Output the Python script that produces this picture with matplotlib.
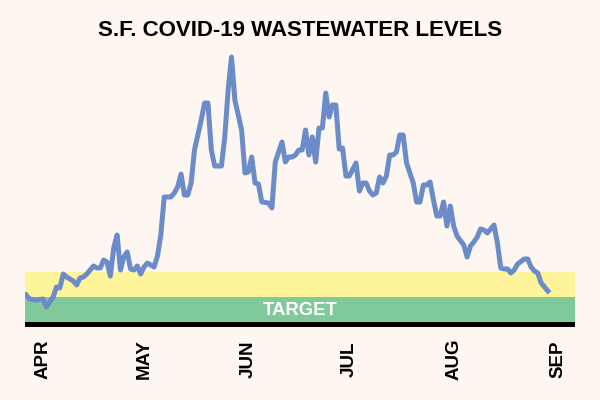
import numpy as np
import pandas as pd
import matplotlib
matplotlib.use('Agg')
import matplotlib.pyplot as plt
import matplotlib.transforms as mtransforms

# days after 1 April, and wastewater level (target band = 0-1, watch band = 1-2)
days = [-5, -4, -2, 0, 1, 3, 4, 5, 6, 7, 9, 10, 11, 12, 13, 15, 16, 17, 18, 19,
        20, 21, 22, 23, 24, 25, 26, 27, 28, 29, 30, 31, 33, 34, 35, 36, 38, 39, 40, 41,
        42, 43, 44, 45, 47, 48, 49, 50, 51, 53, 54, 55, 56, 57, 59, 60, 61, 62, 63, 64,
        65, 67, 68, 69, 71, 72, 73, 74, 75, 76, 77, 78, 79, 80, 81, 82, 83, 84, 85, 86,
        87, 88, 89, 90, 91, 93, 94, 95, 96, 97, 98, 99, 100, 101, 102, 103, 104, 105, 106, 107,
        108, 110, 111, 112, 113, 114, 115, 116, 117, 118, 119, 120, 121, 122, 123, 125, 126, 127, 128, 129,
        130, 131, 132, 134, 135, 136, 137, 138, 139, 140, 141, 143, 144, 145, 146, 147, 148, 150]
level = [1.08, 0.92, 0.88, 0.92, 0.60, 1.00, 1.40, 1.36, 1.92, 1.80, 1.64, 1.48, 1.76, 1.80, 1.92, 2.24, 2.16, 2.16, 2.48, 2.40,
         1.84, 2.96, 3.48, 2.08, 2.60, 2.80, 2.12, 2.08, 2.24, 1.92, 2.20, 2.36, 2.20, 2.64, 3.48, 5.00, 5.00, 5.16, 5.40, 5.92,
         5.08, 5.08, 5.56, 6.88, 8.08, 8.76, 8.76, 6.88, 6.24, 6.24, 7.40, 9.28, 10.60, 8.88, 7.68, 5.96, 6.00, 6.60, 5.56, 5.52,
         4.80, 4.76, 4.56, 6.40, 7.20, 6.40, 6.60, 6.60, 6.68, 6.88, 6.88, 7.68, 6.68, 7.40, 6.40, 7.76, 7.76, 9.16, 8.20, 8.68,
         8.68, 6.92, 6.96, 5.84, 5.84, 6.36, 5.24, 5.56, 5.56, 5.24, 5.08, 5.16, 5.80, 5.56, 5.84, 6.68, 6.68, 6.80, 7.48, 7.48,
         6.36, 5.56, 4.80, 4.80, 5.48, 5.48, 5.60, 4.88, 4.24, 4.24, 4.80, 3.84, 4.64, 3.84, 3.44, 3.08, 2.60, 3.04, 3.20, 3.40,
         3.72, 3.68, 3.56, 3.88, 3.16, 2.16, 2.12, 2.12, 1.96, 2.08, 2.32, 2.52, 2.52, 2.20, 2.04, 1.96, 1.56, 1.24]
months = ['APR', 'MAY', 'JUN', 'JUL', 'AUG', 'SEP']
month_starts = ['2022-04-01', '2022-05-01', '2022-06-01', '2022-07-01', '2022-08-01', '2022-09-01']

start = pd.Timestamp('2022-04-01')
dates = start + pd.to_timedelta(days, unit='D')

bg = '#fdf6f1'
fig = plt.figure(figsize=(6, 4), dpi=100, facecolor=bg)
ax = fig.add_axes([0.0417, 0.1825, 0.9166, 0.705])
ax.set_facecolor(bg)

ax.axhspan(1, 2, color='#fef59a', lw=0, zorder=1)
ax.axhspan(0, 1, color='#80c99b', lw=0, zorder=1)
ax.axhspan(-0.2, 0, color='black', lw=0, zorder=1)
ax.text(0.5, 0.45, 'TARGET', transform=ax.get_yaxis_transform(), ha='center', va='center',
        color='white', fontsize=13.3, fontweight='bold', family='Liberation Sans', zorder=2)

ax.plot(dates, level, color='#6b8cc8', lw=3.6, zorder=3)

ax.set_ylim(-0.2, 11.08)
ax.set_xlim(start - pd.Timedelta(days=5.35), start + pd.Timedelta(days=158.05))
ax.set_xticks(pd.to_datetime(month_starts))
ax.set_xticklabels(months, rotation=90, fontsize=13.5, fontweight='bold', family='Liberation Sans')
shift = mtransforms.ScaledTranslation(2 / 100, 0, fig.dpi_scale_trans)
for lab in ax.get_xticklabels():
    lab.set_va('center')
    lab.set_ha('center')
    lab.set_rotation_mode('anchor')
    lab.set_transform(lab.get_transform() + shift)
ax.tick_params(axis='x', length=0, pad=23)
ax.set_yticks([])
for s in ax.spines.values():
    s.set_visible(False)

fig.suptitle('S.F. COVID-19 WASTEWATER LEVELS', y=0.95, fontsize=16, fontweight='bold',
             family='Liberation Sans')

fig.savefig('out.png', dpi=100, facecolor=bg)
